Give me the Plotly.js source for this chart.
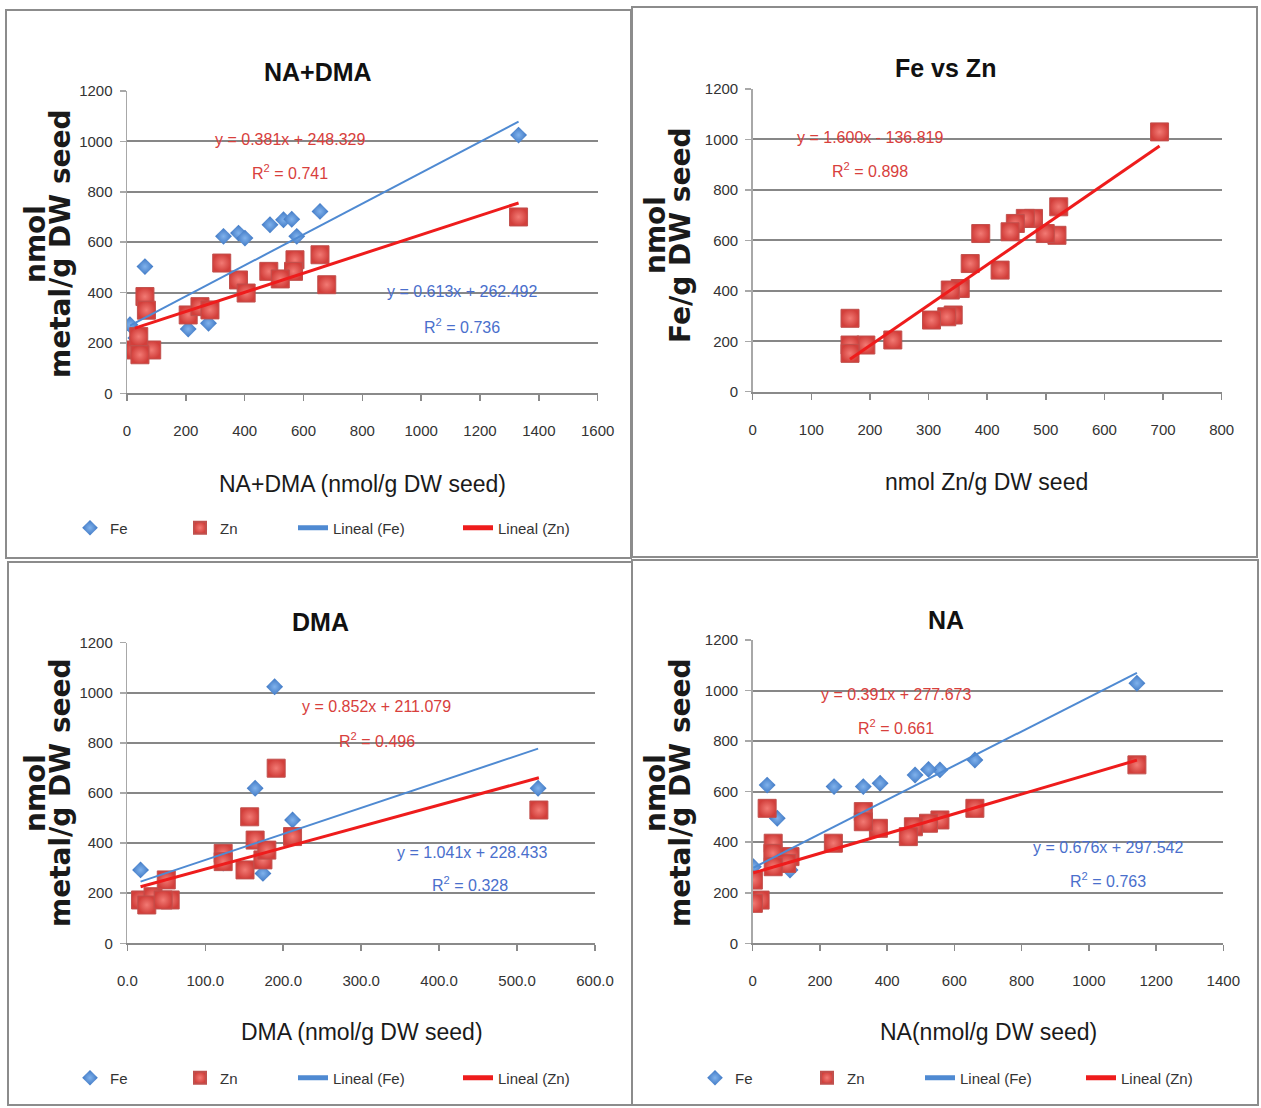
<!DOCTYPE html>
<html>
<head>
<meta charset="utf-8">
<script src="https://cdn.plot.ly/plotly-3.0.1.min.js"></script>
<style>html,body{margin:0;padding:0;background:#fff;overflow:hidden;}#chart{width:1261px;height:1108px;}</style>
</head>
<body>
<div id="chart"></div>
<script>
// ---------- DATA ----------
// Panel 1: NA+DMA (nmol/g DW seed) vs metal
const naDmaFeX = [1331, 656, 486, 532, 560, 577, 328, 379, 401, 61, 208, 277, 10, 30];
const naDmaFeY = [1025, 722, 669, 689, 691, 623, 623, 636, 616, 503, 255, 278, 272, 220];
const naDmaZnX = [1331, 656, 679, 571, 566, 482, 521, 322, 379, 405, 208, 248, 282, 61, 66, 27, 84, 44, 40];
const naDmaZnY = [700, 550, 431, 530, 484, 484, 454, 517, 450, 398, 311, 344, 331, 384, 330, 172, 172, 153, 225];
const naDmaFit = {feSlope: 0.613, feInt: 262.492, znSlope: 0.381, znInt: 248.329};

// Panel 2: Fe vs Zn
const znX = [694, 522, 519, 499, 479, 465, 448, 439, 422, 389, 371, 354, 337, 342, 331, 305, 239, 193, 166, 166, 166];
const feY = [1030, 733, 620, 627, 687, 687, 667, 634, 482, 627, 508, 409, 403, 304, 297, 284, 205, 185, 291, 185, 152];
const feZnFit = {slope: 1.600, int: -136.819};

// Panel 3: DMA
const dmaFeX = [189, 527, 164, 212, 17, 174, 123];
const dmaFeY = [1024, 619, 619, 492, 293, 279, 320];
const dmaZnX = [528, 191, 157, 164, 123, 123, 151, 174, 179, 212, 17, 33, 50, 55, 25, 46];
const dmaZnY = [532, 699, 505, 412, 359, 326, 293, 333, 372, 426, 173, 186, 253, 173, 153, 173];
const dmaFit = {feSlope: 1.041, feInt: 228.433, znSlope: 0.852, znInt: 211.079};

// Panel 4: NA
const naFeX = [1143, 661, 557, 523, 483, 379, 329, 242, 43, 73, 111, 2, 60];
const naFeY = [1029, 725, 686, 688, 666, 633, 620, 620, 626, 495, 290, 303, 330];
const naZnX = [1143, 661, 557, 523, 478, 463, 374, 329, 329, 240, 43, 61, 60, 111, 101, 61, 2, 22, 2];
const naZnY = [706, 534, 488, 475, 461, 422, 455, 521, 481, 396, 534, 396, 356, 343, 316, 303, 250, 171, 158];
const naFit = {feSlope: 0.676, feInt: 297.542, znSlope: 0.391, znInt: 277.673};

const titles = ["NA+DMA", "Fe vs Zn", "DMA", "NA"];
const xTitles = ["NA+DMA (nmol/g DW seed)", "nmol Zn/g DW seed", "DMA (nmol/g DW seed)", "NA(nmol/g DW seed)"];
const yTitleTop = "nmol";
const yTitleBottom = ["metal/g DW seed", "Fe/g DW seed", "metal/g DW seed", "metal/g DW seed"];
const legendNames = ["Fe", "Zn", "Lineal (Fe)", "Lineal (Zn)"];

// ---------- STYLE ----------
const W = 1261, H = 1108;
const SANS = "Liberation Sans, Arial, sans-serif";
const px = v => v / W;
const py = v => 1 - v / H;
const feMarker = {symbol: "diamond", size: 13, color: "#3f78c4", gradient: {type: "radial", color: "#80b2ec"}, line: {width: 0}};
const znMarker = {symbol: "square", size: 18, color: "#d23f3b", gradient: {type: "radial", color: "#f27a74"}, line: {width: 1, color: "#c0504d"}};
const feLine = {color: "#4f8ad2", width: 2};
const znLine = {color: "#ee1c1c", width: 3};

function span(arr) { return [Math.min(...arr), Math.max(...arr)]; }
function fitLine(xs, slope, icpt) { const s = span(xs); return {x: s, y: s.map(v => slope * v + icpt)}; }

const traces = [];
function addPanel(ax, feX, feYv, znXv, znYv, fit, legA, legB) {
  const xa = "x" + ax, ya = "y" + ax;
  const show = !!legA;
  if (feX) traces.push({type: "scatter", mode: "markers", name: legendNames[0], x: feX, y: feYv, xaxis: xa, yaxis: ya, marker: feMarker, legend: legA || "legend", showlegend: show});
  traces.push({type: "scatter", mode: "markers", name: legendNames[1], x: znXv, y: znYv, xaxis: xa, yaxis: ya, marker: znMarker, legend: legA || "legend", showlegend: show});
  if (feX) { const f = fitLine(feX, fit.feSlope, fit.feInt); traces.push({type: "scatter", mode: "lines", name: legendNames[2], x: f.x, y: f.y, xaxis: xa, yaxis: ya, line: feLine, legend: legB || "legend", showlegend: show}); }
  const z = fit.znSlope !== undefined ? fitLine(znXv, fit.znSlope, fit.znInt) : fitLine(znXv, fit.slope, fit.int);
  traces.push({type: "scatter", mode: "lines", name: legendNames[3], x: z.x, y: z.y, xaxis: xa, yaxis: ya, line: znLine, legend: legB || "legend", showlegend: show});
}
addPanel("", naDmaFeX, naDmaFeY, naDmaZnX, naDmaZnY, naDmaFit, "legend", "legend2");
addPanel("2", null, null, znX, feY, feZnFit, null, null);
addPanel("3", dmaFeX, dmaFeY, dmaZnX, dmaZnY, dmaFit, "legend3", "legend4");
addPanel("4", naFeX, naFeY, naZnX, naZnY, naFit, "legend5", "legend6");

const tickFont = {family: SANS, size: 15, color: "#333333"};
function xAxis(domPx, range, dtick, anchor, fmt) {
  return {domain: [px(domPx[0]), px(domPx[1])], range: range, dtick: dtick, tick0: 0, anchor: anchor,
    showgrid: false, zeroline: false, showline: true, linecolor: "#8a8a8a", linewidth: 2,
    ticks: "outside", ticklen: 6, tickwidth: 1.5, tickcolor: "#8a8a8a", tickfont: tickFont,
    ticklabelstandoff: 17, tickformat: fmt || "", fixedrange: true};
}
function yAxis(domPx, anchor) {
  return {domain: [py(domPx[1]), py(domPx[0])], range: [0, 1200], dtick: 200, tick0: 0, anchor: anchor,
    showgrid: true, gridcolor: "#878787", gridwidth: 2, zeroline: false, showline: true, linecolor: "#a8a8a8", linewidth: 1.5,
    ticks: "outside", ticklen: 6, tickwidth: 1.5, tickcolor: "#a8a8a8", tickfont: tickFont, ticklabelstandoff: 4, fixedrange: true};
}

const annotations = [];
function txt(x, y, text, font, extra) { annotations.push(Object.assign({xref: "paper", yref: "paper", x: px(x), y: py(y), text: text, showarrow: false, font: font, xanchor: "center", yanchor: "middle"}, extra || {})); }
const titleFont = {family: SANS, size: 25, color: "#111", weight: 700};
const axTitleFont = {family: SANS, size: 23, color: "#1a1a1a"};
const yTitleFont = {family: "DejaVu Sans", size: 28, color: "#1a1a1a", weight: 700};
// panel titles
txt(318, 72, titles[0], titleFont); txt(945, 68, titles[1], titleFont); txt(320, 622, titles[2], titleFont); txt(946, 620, titles[3], titleFont);
// x titles
txt(362, 484, xTitles[0], axTitleFont); txt(986, 482, xTitles[1], axTitleFont); txt(362, 1032, xTitles[2], axTitleFont); txt(988, 1032, xTitles[3], axTitleFont);
// y titles
[[35, 60, 244, 0], [655, 680, 235, 1], [35, 60, 793, 2], [655, 680, 793, 3]].forEach(a => {
  txt(a[0], a[2], yTitleTop, yTitleFont, {textangle: -90});
  txt(a[1], a[2], yTitleBottom[a[3]], yTitleFont, {textangle: -90});
});
// regression equations (data coords)
const eqFont = c => ({family: SANS, size: 16, color: c});
const RC = "#d8403c", BC = "#4a6fcc";
function eq(xa, ya, x, y, t, c) { annotations.push({xref: xa, yref: ya, x: x, y: y, text: t, showarrow: false, font: eqFont(c), xanchor: "center", yanchor: "middle"}); }
eq("x", "y", 554, 1007, "y = 0.381x + 248.329", RC); eq("x", "y", 554, 880, "R<sup>2</sup> = 0.741", RC);
eq("x", "y", 1139, 403, "y = 0.613x + 262.492", BC); eq("x", "y", 1139, 268, "R<sup>2</sup> = 0.736", BC);
eq("x2", "y2", 200, 1009, "y = 1.600x - 136.819", RC); eq("x2", "y2", 200, 878, "R<sup>2</sup> = 0.898", RC);
eq("x3", "y3", 320, 947, "y = 0.852x + 211.079", RC); eq("x3", "y3", 320, 812, "R<sup>2</sup> = 0.496", RC);
eq("x3", "y3", 442, 364, "y = 1.041x + 228.433", BC); eq("x3", "y3", 439, 237, "R<sup>2</sup> = 0.328", BC);
eq("x4", "y4", 426, 983, "y = 0.391x + 277.673", RC); eq("x4", "y4", 426, 856, "R<sup>2</sup> = 0.661", RC);
eq("x4", "y4", 1057, 381, "y = 0.676x + 297.542", BC); eq("x4", "y4", 1057, 250, "R<sup>2</sup> = 0.763", BC);

// panel frames
const shapes = [[6, 10, 631, 558], [632, 7, 1257, 557], [8, 562, 632, 1105], [632, 560, 1258, 1105]].map(r => ({
  type: "rect", xref: "paper", yref: "paper", x0: px(r[0]), x1: px(r[2]), y0: py(r[3]), y1: py(r[1]),
  line: {color: "#8c8c8c", width: 2}, fillcolor: "rgba(0,0,0,0)", layer: "below"}));

const legFont = {family: SANS, size: 15, color: "#333"};
function leg(xStart, y, ew) { return {orientation: "h", x: px(xStart), y: py(y), xanchor: "left", yanchor: "middle", bgcolor: "rgba(0,0,0,0)", borderwidth: 0, font: legFont, entrywidth: ew, entrywidthmode: "pixels", itemsizing: "constant", itemclick: false, itemdoubleclick: false, tracegroupgap: 0}; }

const layout = {
  width: W, height: H, margin: {l: 0, r: 0, t: 0, b: 0, autoexpand: false}, paper_bgcolor: "#fff", plot_bgcolor: "rgba(0,0,0,0)",
  showlegend: true,
  xaxis: xAxis([127, 597.7], [0, 1600], 200, "y"),
  yaxis: yAxis([91, 393.3], "x"),
  xaxis2: xAxis([752.7, 1221.7], [0, 800], 100, "y2"),
  yaxis2: yAxis([89, 391.7], "x2"),
  xaxis3: xAxis([127.3, 595], [0, 600], 100, "y3", ".1f"),
  yaxis3: yAxis([642.7, 943.3], "x3"),
  xaxis4: xAxis([752.7, 1223.3], [0, 1400], 200, "y4"),
  yaxis4: yAxis([640, 943.3], "x4"),
  legend: leg(70, 528, 65), legend2: leg(293, 528, 120),
  legend3: leg(70, 1078, 65), legend4: leg(293, 1078, 120),
  legend5: leg(695, 1078, 67), legend6: leg(920, 1078, 116),
  annotations: annotations, shapes: shapes
};
Plotly.newPlot("chart", traces, layout, {displayModeBar: false, staticPlot: true});
</script>
</body>
</html>
